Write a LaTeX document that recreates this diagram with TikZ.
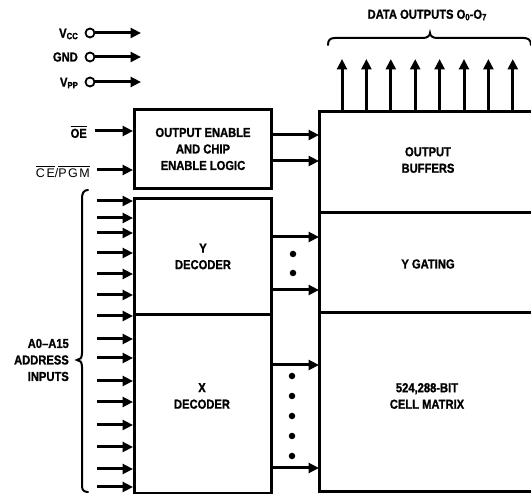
\documentclass[tikz,border=0pt]{standalone}
\usepackage{fontspec}
\setmainfont{Liberation Sans}[FakeStretch=0.86,BoldFeatures={FakeBold=1.2}]
\newfontfamily\cefont{Liberation Sans}[LetterSpace=12]
\usetikzlibrary{arrows.meta}
\newsavebox\ovlbox
\newcommand\myovl[1]{\sbox\ovlbox{#1}\makebox[0pt][l]{\raisebox{\dimexpr\ht\ovlbox+1.6pt\relax}{\rule{\wd\ovlbox}{1.1pt}}}\usebox\ovlbox}
\begin{document}
\begin{tikzpicture}[x=1pt,y=-1pt,
  boxline/.style={line width=3pt},
  blk/.style={draw,line width=3pt,anchor=north west,inner sep=0pt,
    font=\bfseries\fontsize{13}{16.5}\selectfont,align=center},
  lbl/.style={font=\bfseries\fontsize{13}{16.5}\selectfont,align=center,inner sep=0pt},
  sig/.style={line width=3pt,-{Triangle[length=10.5pt,width=10pt]}},
  dotn/.style={circle,fill,inner sep=0pt,minimum size=6.5pt},
  pin/.style={draw,circle,line width=1.8pt,minimum size=9pt,inner sep=0pt},
  bracel/.style={line width=2pt,line cap=round},
]
\useasboundingbox (0,0) rectangle (531,494);

% power pins
\node[lbl,anchor=east] (vcc) at (78,34) {V\raisebox{-1.5pt}{\fontsize{9}{9}\selectfont CC}};
\node[lbl,anchor=east] (gnd) at (78,57) {GND};
\node[lbl,anchor=east] (vpp) at (78,83) {V\raisebox{-1.5pt}{\fontsize{9}{9}\selectfont PP}};
\node[pin] (cvcc) at (90,33) {};
\node[pin] (cgnd) at (90,57) {};
\node[pin] (cvpp) at (90,82) {};
\coordinate (evcc) at (141,33);
\coordinate (egnd) at (141,57);
\coordinate (evpp) at (141,82);
\draw[sig] (cvcc) -- (evcc);
\draw[sig] (cgnd) -- (egnd);
\draw[sig] (cvpp) -- (evpp);

% left blocks
\node[blk,minimum width=137pt,minimum height=79pt] (oebox) at (133,108)
  {OUTPUT ENABLE\\AND CHIP\\ENABLE LOGIC};
\node[blk,minimum width=137pt,minimum height=116pt] (ydec) at (133,197)
  {Y\\DECODER};
\node[blk,minimum width=137pt,minimum height=179pt] (xdec) at (133,313) {};
\node[lbl] (xdect) at (202,396) {X\\DECODER};

% control inputs
\node[lbl,anchor=east] (oe) at (87,132) {\myovl{OE}};
\node[anchor=east,inner sep=0pt,font=\cefont\fontsize{12.5}{13}\selectfont] (ce) at (90,172) {\myovl{CE}/\myovl{PGM}};
\coordinate (oes) at (95,131);
\coordinate (ces) at (97,170);
\draw[sig] (oes) -- (oes -| oebox.west);
\draw[sig] (ces) -- (ces -| oebox.west);

% right column
\coordinate (rtl) at (319,112);
\coordinate (rbl) at (319,492);
\coordinate (rtr) at (531,112);
\coordinate (rbr) at (531,492);
\coordinate (d1l) at (319,213);
\coordinate (d1r) at (531,213);
\coordinate (d2l) at (319,313);
\coordinate (d2r) at (531,313);
\draw[boxline] (rtr) -- (rtl) -- (rbl) -- (rbr);
\draw[boxline] (d1l) -- (d1r);
\draw[boxline] (d2l) -- (d2r);
\node[lbl] (ob) at (428,160) {OUTPUT\\BUFFERS};
\node[lbl] (yg) at (428,264) {Y GATING};
\node[lbl] (cm) at (427,396) {524,288-BIT\\CELL MATRIX};

% enable logic to output buffers
\coordinate (o1) at (270,135);
\coordinate (o2) at (270,161);
\draw[sig] (o1 -| oebox.east) -- (o1 -| rtl);
\draw[sig] (o2 -| oebox.east) -- (o2 -| rtl);

% Y decoder to Y gating
\coordinate (y1) at (270,237);
\coordinate (y2) at (270,290);
\draw[sig] (y1 -| ydec.east) -- (y1 -| rtl);
\draw[sig] (y2 -| ydec.east) -- (y2 -| rtl);
\node[dotn] (yd1) at (293,254) {};
\node[dotn] (yd2) at (293,273) {};

% X decoder to cell matrix
\coordinate (x1) at (270,365);
\coordinate (x2) at (270,468);
\draw[sig] (x1 -| xdec.east) -- (x1 -| rtl);
\draw[sig] (x2 -| xdec.east) -- (x2 -| rtl);
\foreach \yy [count=\i] in {376,396,416,436,456} {
  \node[dotn] (xd\i) at (292,\yy) {};
}

% address inputs
\foreach \yy [count=\i] in {201,218,233,253,274,295,316} {
  \coordinate (a\i) at (97,\yy);
  \draw[sig] (a\i) -- (a\i -| ydec.west);
}
\foreach \yy [count=\i from 8] in {339,358,381,402,425,447,469,487} {
  \coordinate (a\i) at (97,\yy);
  \draw[sig] (a\i) -- (a\i -| xdec.west);
}
\draw[bracel] (88,190) .. controls (84,190) and (82,193) .. (82,198)
  -- (82,353) .. controls (82,358) and (80,360) .. (77,360)
  .. controls (80,360) and (82,362) .. (82,367)
  -- (82,486) .. controls (82,490) and (84,492) .. (88,492);
\node[lbl,anchor=east,align=right] (addr) at (69,360) {A0--A15\\ADDRESS\\INPUTS};

% data outputs
\foreach \xx [count=\i] in {342,366.4,390.8,415.2,439.6,464,488.4,512.8} {
  \coordinate (q\i) at (\xx,112);
  \coordinate (t\i) at (\xx,59);
  \draw[sig] (q\i) -- (t\i);
}
\draw[bracel] (328,45) .. controls (328,40) and (330,38) .. (335,38)
  -- (423,38) .. controls (427,38) and (430,36) .. (430,33)
  .. controls (430,36) and (433,38) .. (437,38)
  -- (524,38) .. controls (528,38) and (531,40) .. (531,45);
\node[lbl] (dout) at (427,15) {DATA OUTPUTS O\raisebox{-1.5pt}{\fontsize{9}{9}\selectfont 0}-O\raisebox{-1.5pt}{\fontsize{9}{9}\selectfont 7}};
\end{tikzpicture}
\end{document}
